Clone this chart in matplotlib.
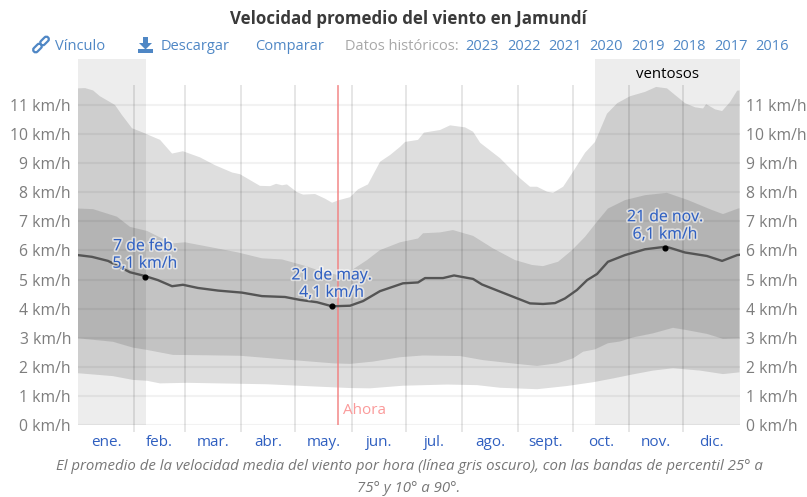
#!/usr/bin/env python3
"""Velocidad promedio del viento en Jamundi - percentile bands over the year."""

import matplotlib
matplotlib.use("Agg")
import matplotlib.pyplot as plt
import matplotlib.patheffects as pe
from matplotlib.patches import FancyBboxPatch, Polygon, Rectangle
from matplotlib.transforms import Affine2D

plt.rcParams['font.family'] = ['Open Sans', 'DejaVu Sans']

# Values (day of year, km/h)
p90_days = [0, 3.9, 8.3, 12.1, 20.4, 24.3, 29.8, 35.9, 45.3, 51.9, 57.9, 67.3, 75.6, 85, 89.4,
            100.4, 106, 109.3, 112.6, 115.3, 120.9, 124.2, 130.8, 136.3, 140.2, 143.5, 150.1,
            154.5, 160, 166.7, 172.2, 177.7, 180.5, 187.6, 190.9, 199.8, 205.3, 213.6, 218,
            221.9, 232.9, 243.9, 249.4, 253.3, 258.8, 262.1, 267.7, 272.6, 279.8, 285.3, 291.9,
            297.5, 304.6, 312.9, 319, 325, 329.5, 335, 340.5, 344.9, 346.6, 351.5, 355.4,
            359.8, 363.7, 365]
p90 = [11.57, 11.58, 11.5, 11.3, 11.0, 10.65, 10.2, 10.05, 9.8, 9.33, 9.41, 9.2, 8.93, 8.68, 8.62,
       8.22, 8.21, 8.29, 8.24, 8.27, 8.0, 7.92, 7.94, 7.78, 7.64, 7.72, 7.83,
       8.1, 8.27, 9.05, 9.28, 9.56, 9.73, 9.8, 10.05, 10.14, 10.3, 10.23, 10.08,
       9.7, 9.17, 8.48, 8.19, 8.19, 8.02, 7.98, 8.19, 8.65, 9.36, 9.73, 10.7,
       11.06, 11.3, 11.45, 11.62, 11.57, 11.34, 11.06, 10.92, 10.88, 11.03, 10.85, 10.79,
       11.1, 11.49, 11.5]

p75_days = [0, 8.3, 21.5, 28.7, 38.1, 51.9, 59, 71.7, 88.3, 101.5, 112.6, 125.3, 133.5, 143.5,
            151.2, 159.5, 166.6, 177.7, 187.6, 190.4, 199.8, 206.9, 218, 229, 241.1, 250.5,
            256.6, 264.9, 272.6, 279.8, 286.4, 292.4, 301.8, 312.9, 325, 336.6, 349.8, 355.9,
            364.2, 365]
p75 = [7.44, 7.42, 7.16, 6.81, 6.67, 6.24, 6.28, 6.13, 5.93, 5.73, 5.69, 5.47, 5.3, 5.15,
       5.33, 5.67, 6.01, 6.28, 6.41, 6.59, 6.62, 6.7, 6.5, 6.07, 5.67, 5.5,
       5.46, 5.61, 6.01, 6.47, 6.99, 7.44, 7.73, 7.9, 7.98, 7.73, 7.39, 7.25,
       7.44, 7.45]

mean_days = [0, 7.7, 16.6, 28.7, 37, 44.1, 51.9, 57.9, 66.2, 77.3, 90.5, 101.5, 114.2, 122.5,
             131.9, 140.2, 150.1, 157.3, 166.6, 179.3, 187.6, 191.5, 201.4, 207.5, 218, 222.9,
             240, 249.4, 256.6, 263.2, 268.7, 275.3, 280.9, 286.4, 292.4, 301.8, 312.9, 324.5,
             334.9, 347, 355.4, 363.7, 365]
mean = [5.84, 5.78, 5.64, 5.25, 5.12, 4.98, 4.77, 4.82, 4.71, 4.62, 4.55, 4.43, 4.4, 4.3,
        4.22, 4.08, 4.1, 4.26, 4.6, 4.87, 4.9, 5.05, 5.05, 5.14, 5.02, 4.83,
        4.41, 4.18, 4.16, 4.19, 4.35, 4.64, 4.98, 5.19, 5.61, 5.84, 6.04, 6.13,
        5.93, 5.81, 5.64, 5.84, 5.85]

p25_days = [0, 19.3, 30.3, 38.1, 52.4, 67.3, 89.4, 118.6, 140.7, 150.1, 162.8, 177.7, 190.4, 210.8,
            223.5, 242.2, 253.3, 264.3, 273.1, 278.7, 285.3, 292.4, 299.1, 306.2, 317.3, 328.3,
            336, 347.1, 355.9, 365]
p25 = [2.98, 2.86, 2.66, 2.58, 2.41, 2.4, 2.38, 2.23, 2.12, 2.1, 2.18, 2.33, 2.39, 2.37,
       2.23, 2.1, 2.03, 2.12, 2.29, 2.52, 2.6, 2.81, 2.87, 3.01, 3.15, 3.34,
       3.26, 3.13, 2.96, 2.98]

p10_days = [0, 19.3, 30.3, 38.1, 45.2, 60.1, 104.3, 131.9, 150.1, 161.1, 179.3, 203.6, 220.2,
            232.9, 253.3, 269.8, 284.2, 295.2, 306.2, 317.3, 328.3, 343.2, 355.9, 365]
p10 = [1.78, 1.68, 1.55, 1.52, 1.43, 1.45, 1.4, 1.32, 1.27, 1.26, 1.35, 1.39, 1.37,
       1.28, 1.23, 1.34, 1.47, 1.6, 1.74, 1.87, 1.95, 1.87, 1.75, 1.81]

month_starts = [31, 59, 90, 120, 151, 181, 212, 243, 273, 304, 334]
month_mids = [15.5, 45, 74.5, 105, 135.5, 166, 196.5, 227.5, 258, 288.5, 319, 349.5]
month_labels = ['ene.', 'feb.', 'mar.', 'abr.', 'may.', 'jun.', 'jul.', 'ago.', 'sept.', 'oct.', 'nov.', 'dic.']
y_values = list(range(12))
y_labels = [f'{v} km/h' for v in y_values]
windy_spans = [(0, 37.5), (285, 365)]
now_day = 143.5
callouts = [(37, 5.1, '7 de feb.\n5,1 km/h'), (140, 4.1, '21 de may.\n4,1 km/h'), (324, 6.1, '21 de nov.\n6,1 km/h')]
years = ['2023', '2022', '2021', '2020', '2019', '2018', '2017', '2016']
year_px = [482, 524, 565, 606, 648, 689, 731, 772]

BLUE_LINK = '#4f87c5'
BLUE_TEXT = '#2f5fc0'
GRAY_TEXT = '#7d7d7d'

fig = plt.figure(figsize=(8.07, 4.97), dpi=100)
ax = fig.add_axes([78 / 807, (497 - 425) / 497, (739.5 - 78) / 807, (425 - 59) / 497])
ax.set_xlim(0, 365)
ax.set_ylim(0, 12.58)

for start, end in windy_spans:
    ax.axvspan(start, end, color='black', alpha=0.07, lw=0, zorder=1)

# Percentile bands stacked, the inner one darkens the outer one
ax.fill(p90_days + p10_days[::-1], p90 + p10[::-1], color='black', alpha=0.13, lw=0, zorder=2)
ax.fill(p75_days + p25_days[::-1], p75 + p25[::-1], color='black', alpha=0.12, lw=0, zorder=3)

for v in y_values:
    ax.axhline(v, color='black', alpha=0.05, lw=1.6, zorder=4)
for d in month_starts:
    ax.plot([d, d], [-0.2, 11.65], color='black', alpha=0.10, lw=1.4, zorder=4, clip_on=False)

ax.plot([now_day, now_day], [0, 11.65], color='#f28080', alpha=0.8, lw=1.3, zorder=5)
ax.text(now_day + 2.5, 0.49, 'Ahora', color='#fb9a9a', fontsize=11, va='center', ha='left', zorder=6)

ax.plot(mean_days, mean, color='#555555', lw=1.7, zorder=6)

halo = [pe.withStroke(linewidth=2.5, foreground=(1, 1, 1, 0.55))]
for day, val, label in callouts:
    ax.plot([day], [val], 'o', color='black', ms=3.4, zorder=8)
    ax.annotate(label, xy=(day, val), xytext=(0, 3.5), textcoords='offset points', ha='center', va='bottom',
                color=BLUE_TEXT, fontsize=11.4, linespacing=1.12, zorder=9, path_effects=halo)

for s in ax.spines.values():
    s.set_visible(False)
ax.set_yticks(y_values)
ax.set_yticklabels(y_labels)
ax.tick_params(axis='y', length=0, pad=5, labelsize=11.3, labelcolor=GRAY_TEXT, labelright=True, right=False)
ax.set_xticks(month_mids)
ax.set_xticklabels(month_labels)
ax.tick_params(axis='x', length=0, pad=7, labelsize=11, labelcolor=BLUE_TEXT)

# Overlay in pixel coordinates for the page furniture
top = fig.add_axes([0, 0, 1, 1], zorder=10)
top.set_xlim(0, 807)
top.set_ylim(497, 0)
top.axis('off')
top.patch.set_alpha(0)

top.text(408, 19, 'Velocidad promedio del viento en Jamundí', ha='center', va='center',
         fontsize=12.2, fontweight='bold', color='#3a3a3a')
top.text(55, 46, 'Vínculo', ha='left', va='center', fontsize=10.5, color=BLUE_LINK)
top.text(161, 46, 'Descargar', ha='left', va='center', fontsize=10.5, color=BLUE_LINK)
top.text(255, 46, 'Comparar', ha='left', va='center', fontsize=10.5, color=BLUE_LINK)
top.text(345, 46, 'Datos históricos:', ha='left', va='center', fontsize=10.5, color='#a8a8a8')
for year, px in zip(years, year_px):
    top.text(px, 46, year, ha='center', va='center', fontsize=10.5, color=BLUE_LINK)

top.text(667, 74, 'ventosos', ha='center', va='center', fontsize=10.8, color='black')

caption = 'El promedio de la velocidad media del viento por hora (línea gris oscuro), con las bandas de percentil 25° a'
top.text(409, 467, caption, ha='center', va='center', fontsize=10.8, style='italic', color='#777777')
top.text(409, 488, '75° y 10° a 90°.', ha='center', va='center', fontsize=10.8, style='italic', color='#777777')

# link icon
rot = Affine2D().rotate_deg_around(41, 44.5, -45) + top.transData
for cx in (36, 46):
    top.add_patch(FancyBboxPatch((cx - 5, 42), 10, 5, boxstyle='round,pad=0,rounding_size=2.5',
                                 fc='none', ec=BLUE_LINK, lw=1.6, transform=rot))

# download icon
top.add_patch(Polygon([(143, 37), (148, 37), (148, 43), (152, 43), (145.5, 49.5), (139, 43), (143, 43)],
                      closed=True, fc=BLUE_LINK, ec='none'))
top.add_patch(Rectangle((138, 49), 15, 3.5, fc=BLUE_LINK, ec='none'))

plt.savefig('out.png', dpi=100)
